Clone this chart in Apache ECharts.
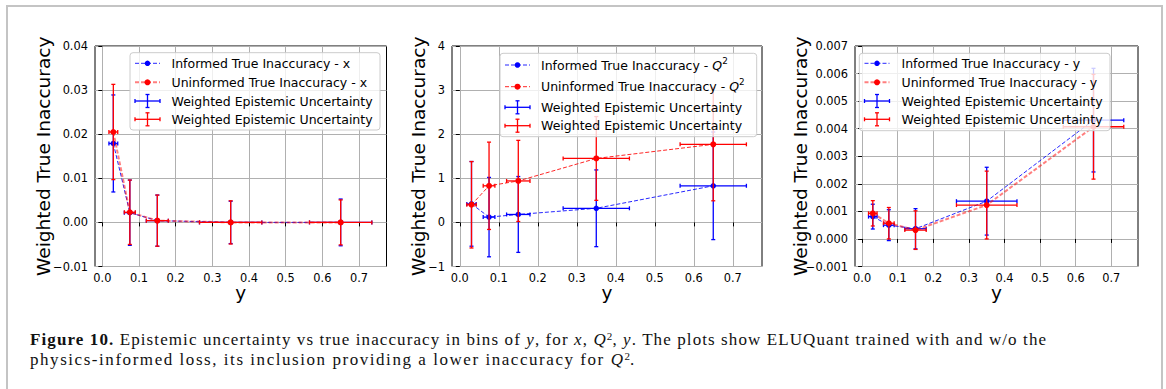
<!DOCTYPE html>
<html>
<head>
<meta charset="utf-8">
<script src="https://cdn.jsdelivr.net/npm/echarts@6/dist/echarts.min.js"></script>
<style>
  html, body { margin: 0; padding: 0; background: #fff; }
  #wrap { position: relative; width: 1166px; height: 389px; overflow: hidden; }
  #main { position: absolute; left: 0; top: 0; width: 1166px; height: 389px; }
  #frame { position: absolute; left: 6px; top: 5px; width: 1153px; height: 420px; border: 2px solid #c4c4c4; pointer-events: none; }
  #caption { position: absolute; left: 30px; top: 330px; font-family: "Liberation Serif", serif; font-size: 17px; letter-spacing: 1.1px; line-height: 20px; color: #111; white-space: nowrap; }
  #caption .l2 { letter-spacing: 1.55px; }
  #caption sup { font-size: 0.65em; vertical-align: 0.45em; line-height: 0; letter-spacing: 0; }
</style>
</head>
<body>
<div id="wrap">
  <div id="main"></div>
  <div id="frame"></div>
  <div id="caption"><b>Figure 10.</b> Epistemic uncertainty vs true inaccuracy in bins of <i>y</i>, for <i>x</i>, <i>Q</i><sup>2</sup>, <i>y</i>. The plots show ELUQuant trained with and w/o the<br><span class="l2">physics-informed loss, its inclusion providing a lower inaccuracy for <i>Q</i><sup>2</sup>.</span></div>
</div>
<script>
  // bins of y (centres and half widths)
  const yBins = [0.03, 0.075, 0.15, 0.35, 0.65]
  const yBinHalf = [0.012, 0.015, 0.03, 0.085, 0.085]
  const xTicks = [0, 0.1, 0.2, 0.3, 0.4, 0.5, 0.6, 0.7]

  // panel 1 : x
  const xInformed = [0.0179, 0.0022, 0.0004, 0.0, 0.0]
  const xInformedErr = [0.011, 0.0074, 0.0058, 0.0048, 0.0053]
  const xUninformed = [0.0205, 0.0023, 0.0004, 0.0, 0.0]
  const xUninformedErr = [0.0108, 0.0073, 0.0058, 0.0049, 0.0051]
  // panel 2 : Q2
  const q2Informed = [0.42, 0.12, 0.18, 0.32, 0.83]
  const q2InformedErr = [0.96, 0.9, 0.86, 0.87, 1.22]
  const q2Uninformed = [0.4, 0.83, 0.94, 1.45, 1.77]
  const q2UninformedErr = [0.98, 0.99, 0.92, 0.95, 1.28]
  // panel 3 : y
  const yInformed = [0.00081, 0.0005, 0.00037, 0.00137, 0.00431]
  const yInformedErr = [0.00045, 0.00056, 0.00073, 0.00123, 0.00188]
  const yUninformed = [0.00093, 0.00057, 0.00032, 0.00123, 0.00407]
  const yUninformedErr = [0.00046, 0.00057, 0.0007, 0.00123, 0.0019]

  const yTicks1 = [-0.01, 0.04, 0.01]
  const yTicks2 = [-1, 4, 1]
  const yTicks3 = [-0.001, 0.007, 0.001]

  const FONT = 'DejaVu Sans'
  const BLUE = '#0000ff'
  const RED = '#ff0000'
  const minus = (s) => s.replace('-', '\u2212')

  const panels = [
    {
      left: 95, width: 291.5, ticks: yTicks1, digits: 2, nameGap: 43, var: 'x',
      inf: xInformed, infErr: xInformedErr, uni: xUninformed, uniErr: xUninformedErr,
      redWidth: 2, redOpacity: 0.5,
      legend: { x: 130, y: 52.7, w: 250, h: 77.3, hx: 135, tx: 171.5, rows: [63.3, 82.3, 101, 119.3] },
    },
    {
      left: 452, width: 310, ticks: yTicks2, digits: 0, nameGap: 25, var: 'Q2',
      inf: q2Informed, infErr: q2InformedErr, uni: q2Uninformed, uniErr: q2UninformedErr,
      redWidth: 1, redOpacity: 0.85,
      legend: { x: 500, y: 53.3, w: 256.7, h: 83.4, hx: 505, tx: 541, rows: [65, 86.7, 107.3, 125.7] },
    },
    {
      left: 855, width: 283, ticks: yTicks3, digits: 3, nameGap: 46, var: 'y',
      inf: yInformed, infErr: yInformedErr, uni: yUninformed, uniErr: yUninformedErr,
      redWidth: 2, redOpacity: 0.5,
      legend: { x: 859.3, y: 53.3, w: 250.7, h: 77.4, hx: 864.5, tx: 901.5, rows: [63.3, 82.3, 101, 119.3] },
    },
  ]

  const errorBar = (color) => (params, api) => {
    const x = api.value(0)
    const y = api.value(1)
    const dx = api.value(2)
    const dy = api.value(3)
    const c = api.coord([x, y])
    const l = api.coord([x - dx, y])
    const r = api.coord([x + dx, y])
    const t = api.coord([x, y + dy])
    const b = api.coord([x, y - dy])
    const cap = 2
    const seg = (x1, y1, x2, y2) => ({
      type: 'line',
      shape: { x1, y1, x2, y2 },
      style: { stroke: color, lineWidth: 1.3 },
    })
    return {
      type: 'group',
      children: [
        seg(l[0], c[1], r[0], c[1]),
        seg(c[0], t[1], c[0], b[1]),
        seg(l[0], c[1] - cap, l[0], c[1] + cap),
        seg(r[0], c[1] - cap, r[0], c[1] + cap),
        seg(c[0] - cap, t[1], c[0] + cap, t[1]),
        seg(c[0] - cap, b[1], c[0] + cap, b[1]),
      ],
    }
  }

  const grid = []
  const xAxis = []
  const yAxis = []
  const series = []
  const graphic = []

  panels.forEach((p, i) => {
    grid.push({
      left: p.left, top: 46, width: p.width, height: 220.5,
      show: true, borderColor: '#000', borderWidth: 1, backgroundColor: 'transparent',
    })
    xAxis.push({
      gridIndex: i, type: 'value', min: -0.02, max: 0.775,
      name: 'y', nameLocation: 'middle', nameGap: 20, nameMoveOverlap: false,
      nameTextStyle: { fontFamily: FONT, fontSize: 18.5, lineHeight: 12, color: '#000' },
      axisLine: { show: false },
      axisTick: { show: true, length: 4, customValues: xTicks, lineStyle: { color: '#000' } },
      axisLabel: {
        customValues: xTicks, margin: 6, fontFamily: FONT, fontSize: 11.4, color: '#000',
        formatter: (v) => v.toFixed(1),
      },
      splitLine: { show: true, lineStyle: { color: '#b0b0b0', width: 1 } },
    })
    yAxis.push({
      gridIndex: i, type: 'value', min: p.ticks[0], max: p.ticks[1], interval: p.ticks[2],
      name: 'Weighted True Inaccuracy', nameLocation: 'middle', nameGap: p.nameGap, nameMoveOverlap: false,
      nameTextStyle: { fontFamily: FONT, fontSize: 18.5, lineHeight: 18, color: '#000' },
      axisLine: { show: false },
      axisTick: { show: true, length: 4, lineStyle: { color: '#000' } },
      axisLabel: {
        margin: 7, fontFamily: FONT, fontSize: 11.4, color: '#000',
        formatter: (v) => minus(v.toFixed(p.digits)),
      },
      splitLine: { show: true, lineStyle: { color: '#b0b0b0', width: 1 } },
    })

    const errData = (vals, errs) => yBins.map((b, k) => [b, vals[k], yBinHalf[k], errs[k]])
    const lineData = (vals) => yBins.map((b, k) => [b, vals[k]])

    series.push({
      type: 'custom', xAxisIndex: i, yAxisIndex: i, z: 3,
      renderItem: errorBar(BLUE), encode: { x: 0, y: 1 },
      data: errData(p.inf, p.infErr),
    })
    series.push({
      type: 'line', xAxisIndex: i, yAxisIndex: i, z: 4,
      data: lineData(p.inf), symbol: 'circle', symbolSize: 5.5, showAllSymbol: true,
      itemStyle: { color: BLUE },
      lineStyle: { color: BLUE, width: 1, type: [4, 2], opacity: 0.85 },
    })
    series.push({
      type: 'custom', xAxisIndex: i, yAxisIndex: i, z: 5,
      renderItem: errorBar(RED), encode: { x: 0, y: 1 },
      data: errData(p.uni, p.uniErr),
    })
    series.push({
      type: 'line', xAxisIndex: i, yAxisIndex: i, z: 6,
      data: lineData(p.uni), symbol: 'circle', symbolSize: 6, showAllSymbol: true,
      itemStyle: { color: RED },
      lineStyle: { color: RED, width: p.redWidth, type: [4, 2], opacity: p.redOpacity },
    })

    // legend drawn on top of the data, like matplotlib's framed legend
    const L = p.legend
    graphic.push({
      type: 'rect', z: 100,
      shape: { x: L.x, y: L.y, width: L.w, height: L.h, r: 3 },
      style: { fill: 'rgba(255,255,255,0.8)', stroke: '#cccccc', lineWidth: 1 },
    })
    const hx0 = L.hx
    const hx1 = L.hx + 25
    const hxm = (hx0 + hx1) / 2
    const lineHandle = (ry, color, width, opacity, size) => {
      graphic.push({
        type: 'line', z: 101, shape: { x1: hx0, y1: ry, x2: hx1, y2: ry },
        style: { stroke: color, lineWidth: width, lineDash: [4, 2], opacity },
      })
      graphic.push({
        type: 'circle', z: 102, shape: { cx: hxm, cy: ry, r: size / 2 },
        style: { fill: color },
      })
    }
    const errHandle = (ry, color) => {
      const segs = [
        [hx0, ry, hx1, ry], [hxm, ry - 6.5, hxm, ry + 6.5],
        [hx0, ry - 2, hx0, ry + 2], [hx1, ry - 2, hx1, ry + 2],
        [hxm - 2, ry - 6.5, hxm + 2, ry - 6.5], [hxm - 2, ry + 6.5, hxm + 2, ry + 6.5],
      ]
      segs.forEach((s) => graphic.push({
        type: 'line', z: 101, shape: { x1: s[0], y1: s[1], x2: s[2], y2: s[3] },
        style: { stroke: color, lineWidth: 1.3 },
      }))
    }
    const varText = p.var === 'Q2' ? '{q|Q}{s|2}' : p.var
    const labels = [
      'Informed True Inaccuracy - ' + varText,
      'Uninformed True Inaccuracy - ' + varText,
      'Weighted Epistemic Uncertainty',
      'Weighted Epistemic Uncertainty',
    ]
    lineHandle(L.rows[0], BLUE, 1, 0.85, 5.5)
    lineHandle(L.rows[1], RED, p.redWidth, p.redOpacity, 6)
    errHandle(L.rows[2], BLUE)
    errHandle(L.rows[3], RED)
    labels.forEach((txt, k) => {
      graphic.push({
        type: 'text', z: 103, x: L.tx, y: L.rows[k],
        style: {
          text: txt, fontFamily: FONT, fontSize: 12.5, fill: '#000',
          verticalAlign: 'middle', align: 'left',
          rich: {
            q: { fontFamily: FONT, fontSize: 12.5, fontStyle: 'italic', fill: '#000', lineHeight: 18 },
            s: { fontFamily: FONT, fontSize: 8.8, fill: '#000', lineHeight: 9, verticalAlign: 'top' },
          },
        },
      })
    })
  })

  const chart = echarts.init(document.getElementById('main'), null, { renderer: 'svg' })
  chart.setOption({
    animation: false,
    backgroundColor: '#fff',
    grid,
    xAxis,
    yAxis,
    series,
    graphic,
  })
</script>
</body>
</html>
